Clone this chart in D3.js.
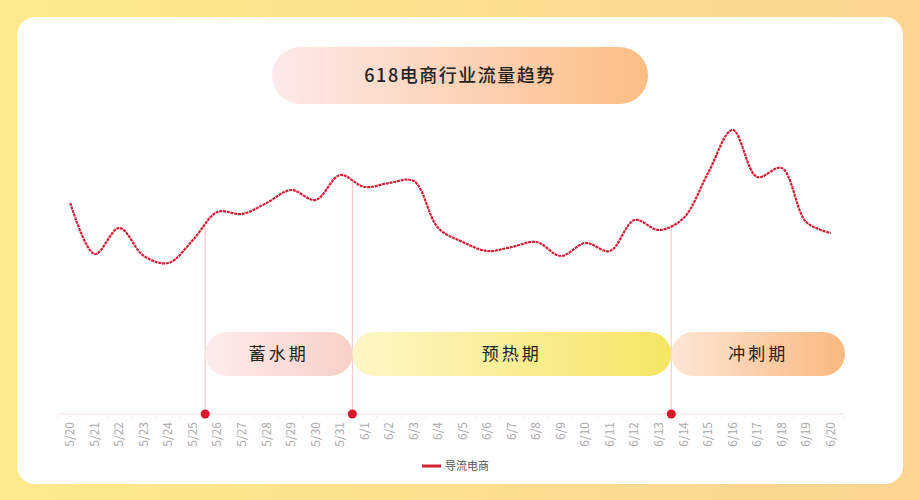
<!DOCTYPE html>
<html><head><meta charset="utf-8">
<script src="https://cdn.jsdelivr.net/npm/d3@7"></script>
<style>body{margin:0;font-family:"Noto Sans CJK SC","Noto Sans",sans-serif}</style>
</head><body><svg id="c" width="920" height="500"></svg>
<script>
var dates = ["5/20","5/21","5/22","5/23","5/24","5/25","5/26","5/27","5/28","5/29","5/30","5/31","6/1","6/2","6/3","6/4","6/5","6/6","6/7","6/8","6/9","6/10","6/11","6/12","6/13","6/14","6/15","6/16","6/17","6/18","6/19","6/20"];
var traffic = [97,46,72,44,37,60,88,86,97,110,100,125,113,117,119,72,58,49,53,58,44,57,49,80,70,82,127,170,123,132,78,67];
var phases = ["蓄水期","预热期","冲刺期"];
var phaseStart = ["5/25","5/31","6/13"];
var phaseColors = [["#fcecec","#f8d0c8"],["#fdf6c6","#f6e564"],["#fde6d6","#f9b87e"]];

var svg = d3.select("#c"), defs = svg.append("defs");
function grad(id, c0, c1) {
    var g = defs.append("linearGradient").attr("id", id);
    g.append("stop").attr("offset", 0).attr("stop-color", c0);
    g.append("stop").attr("offset", 1).attr("stop-color", c1);
}
grad("bg", "#fde98c", "#fbd490");
grad("tt", "#fde9ea", "#fbbd84");
phaseColors.forEach(function(c, i) { grad("p" + i, c[0], c[1]); });

svg.append("rect").attr("width", 920).attr("height", 500).attr("fill", "url(#bg)");
svg.append("rect").attr("x", 17).attr("y", 17).attr("width", 886).attr("height", 467).attr("rx", 18).attr("fill", "#fff");
svg.append("rect").attr("x", 272).attr("y", 47).attr("width", 376).attr("height", 57).attr("rx", 28.5).attr("fill", "url(#tt)");
svg.append("text").attr("x", 460).attr("y", 82).attr("text-anchor", "middle").attr("font-size", 18).attr("font-weight", 500).attr("fill", "#222").attr("letter-spacing", 1.5).text("618电商行业流量趋势");

var x = d3.scaleBand().domain(dates).range([58, 843]);
var y = d3.scaleLinear().domain([0, 200]).range([300, 100]);
var axisY = 414;
var cx = function(d) { return x(d) + x.bandwidth() / 2; };

// axis
svg.append("line").attr("x1", 58).attr("x2", 843).attr("y1", axisY).attr("y2", axisY).attr("stroke", "#f2dede");
svg.selectAll(".tk").data(dates.concat(["end"])).enter().append("line")
    .attr("x1", function(d, i) { return 58 + i * x.bandwidth(); })
    .attr("x2", function(d, i) { return 58 + i * x.bandwidth(); })
    .attr("y1", axisY).attr("y2", axisY + 4).attr("stroke", "#eee");
svg.selectAll(".lb").data(dates).enter().append("text")
    .attr("transform", function(d) { return "translate(" + (cx(d) + 4) + "," + (axisY + 8) + ") rotate(-90)"; })
    .attr("text-anchor", "end").attr("font-size", 12).attr("fill", "#aaa").text(function(d) { return d; });

// phases
phaseStart.forEach(function(d, i) {
    var px = x(d) + x.bandwidth();
    var nx = i < 2 ? x(phaseStart[i + 1]) + x.bandwidth() : 845;
    var j = dates.indexOf(d), vy = y((traffic[j] + traffic[j + 1]) / 2);
    svg.append("line").attr("x1", px).attr("x2", px).attr("y1", vy).attr("y2", axisY).attr("stroke", "#f7c9cc").attr("stroke-width", 1.2);
    svg.append("rect").attr("x", px).attr("y", 332).attr("width", nx - px).attr("height", 44).attr("rx", 22).attr("fill", "url(#p" + i + ")");
    svg.append("text").attr("x", (px + nx) / 2).attr("y", 360).attr("text-anchor", "middle").attr("font-size", 17).attr("fill", "#222").attr("letter-spacing", 3).text(phases[i]);
    svg.append("circle").attr("cx", px).attr("cy", axisY).attr("r", 4.5).attr("fill", "#d9182d");
});

// line
var line = d3.line().x(function(d, i) { return cx(dates[i]); }).y(function(d) { return y(d); }).curve(d3.curveCatmullRom.alpha(0.5));
svg.append("path").datum(traffic).attr("d", line).attr("fill", "none").attr("stroke", "#d41f38").attr("stroke-width", 2.2).attr("stroke-dasharray", "3,0.8");

// legend
svg.append("line").attr("x1", 422).attr("x2", 441).attr("y1", 466).attr("y2", 466).attr("stroke", "#d41f38").attr("stroke-width", 3);
svg.append("text").attr("x", 445).attr("y", 470).attr("font-size", 11).attr("fill", "#555").text("导流电商");
</script></body></html>
